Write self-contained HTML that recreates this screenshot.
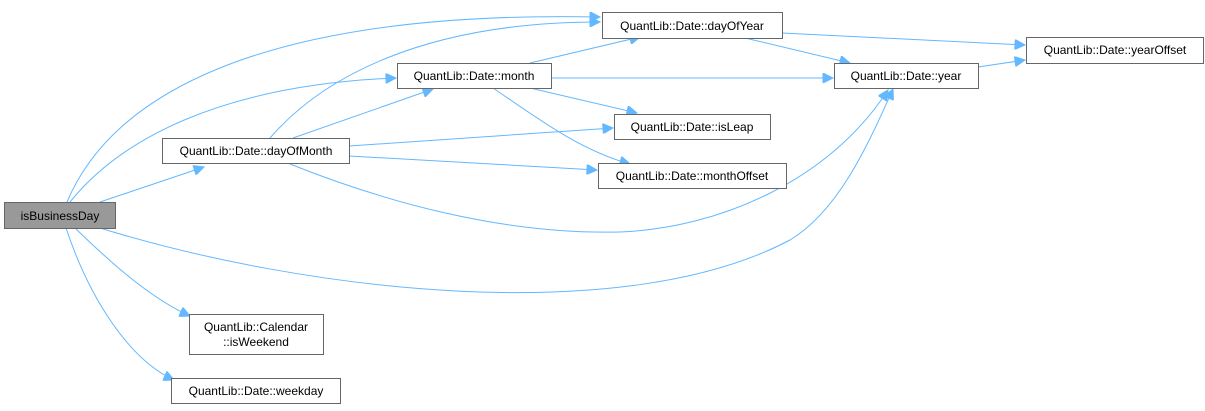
<!DOCTYPE html>
<html><head><meta charset="utf-8"><style>
html,body{margin:0;padding:0;background:#fff;}
svg{display:block;}
text{font-family:"Liberation Sans",Arial,sans-serif;font-size:12px;fill:#000;}
</style></head><body>
<svg width="1205" height="411" viewBox="0 0 1205 411" xmlns="http://www.w3.org/2000/svg">
<defs>
<marker id="a" viewBox="0 0 10 10" refX="10" refY="5" markerWidth="13" markerHeight="10" orient="auto" markerUnits="userSpaceOnUse">
<path d="M0,0 L10,5 L0,10 z" fill="#63b8ff" stroke="#63b8ff"/>
</marker>
</defs>
<g fill="none" stroke="#63b8ff" stroke-width="1" marker-end="url(#a)">
<path d="M67,202 C110,100 250,10 600,17"/>
<path d="M70,202 C120,140 220,85 396,78"/>
<path d="M100,202 L204,167"/>
<path d="M100,228 C300,290 620,330 790,240 C840,210 870,140 893,89"/>
<path d="M75,228 C110,262 150,298 190,316"/>
<path d="M66,228 C90,300 130,360 174,380"/>
<path d="M270,138 C320,80 420,22 600,22"/>
<path d="M293,138 L433,89"/>
<path d="M349,146 L613,128"/>
<path d="M349,156 L597,170"/>
<path d="M290,164 C380,200 500,235 620,232 C720,228 830,180 888,90"/>
<path d="M530,63 L640,37"/>
<path d="M551,78 L833,78"/>
<path d="M530,88 L637,113"/>
<path d="M493,88 C540,120 580,150 630,164"/>
<path d="M782,33 L1025,45"/>
<path d="M745,38 L850,63"/>
<path d="M978,67 L1025,60"/>
</g>
<g stroke="#666" stroke-width="1">
<rect x="4.5" y="202.5" width="111" height="26" fill="#999"/>
<rect x="162.5" y="138.5" width="187" height="25" fill="#fff"/>
<rect x="397.5" y="63.5" width="154" height="25" fill="#fff"/>
<rect x="189.5" y="314.5" width="134" height="40" fill="#fff"/>
<rect x="171.5" y="378.5" width="169" height="25" fill="#fff"/>
<rect x="602.5" y="12.5" width="180" height="26" fill="#fff"/>
<rect x="1026.5" y="37.5" width="177" height="26" fill="#fff"/>
<rect x="834.5" y="63.5" width="144" height="25" fill="#fff"/>
<rect x="614.5" y="114.5" width="156" height="25" fill="#fff"/>
<rect x="598.5" y="163.5" width="188" height="25" fill="#fff"/>
</g>
<g text-anchor="middle">
<text x="60" y="220">isBusinessDay</text>
<text x="256" y="155">QuantLib::Date::dayOfMonth</text>
<text x="474" y="80">QuantLib::Date::month</text>
<text x="256" y="331">QuantLib::Calendar</text>
<text x="256" y="346">::isWeekend</text>
<text x="256" y="395">QuantLib::Date::weekday</text>
<text x="692" y="30">QuantLib::Date::dayOfYear</text>
<text x="1115" y="54">QuantLib::Date::yearOffset</text>
<text x="906" y="80">QuantLib::Date::year</text>
<text x="692" y="131">QuantLib::Date::isLeap</text>
<text x="692" y="180">QuantLib::Date::monthOffset</text>
</g>
</svg>
</body></html>
